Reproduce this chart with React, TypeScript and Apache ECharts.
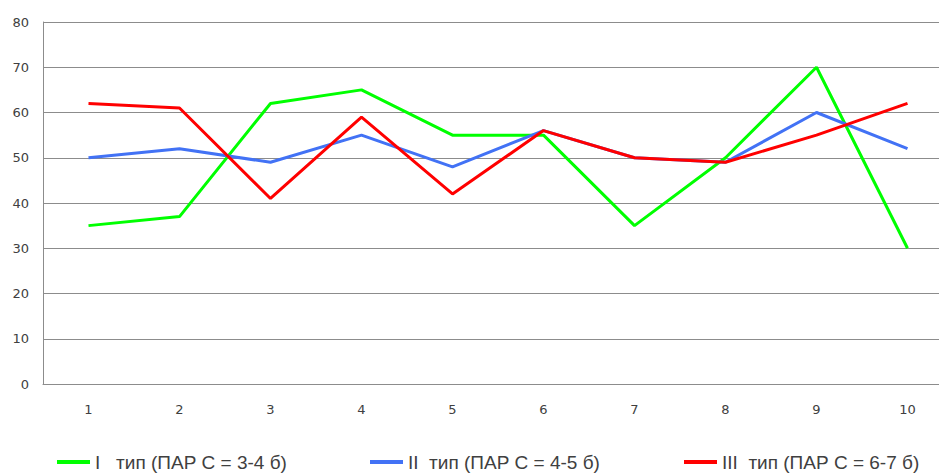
import React, { useEffect, useRef } from "react";
import * as echarts from "echarts";

const categories = ["1", "2", "3", "4", "5", "6", "7", "8", "9", "10"];
const seriesNames = [
  "I   тип (ПАР С = 3-4 б)",
  "II  тип (ПАР С = 4-5 б)",
  "III  тип (ПАР С = 6-7 б)",
];
const type1 = [35, 37, 62, 65, 55, 55, 35, 50, 70, 30];
const type2 = [50, 52, 49, 55, 48, 56, 50, 49, 60, 52];
const type3 = [62, 61, 41, 59, 42, 56, 50, 49, 55, 62];
const colors = ["#00ff00", "#4272f5", "#ff0000"];
const legendLeft = [57, 370, 684];

export default function App() {
  const ref = useRef<HTMLDivElement>(null);
  useEffect(() => {
    document.body.style.margin = "0";
    const chart = echarts.init(ref.current!, null, { renderer: "svg" });
    const data = [type1, type2, type3];
    chart.setOption({
      animation: false,
      backgroundColor: "#ffffff",
      grid: { left: 43, top: 22, right: -14, bottom: 89, outerBoundsMode: "none", containLabel: false },
      legend: seriesNames.map((n, i) => ({
        data: [n],
        left: legendLeft[i],
        top: 452,
        padding: 0,
        icon: "rect",
        itemWidth: 33,
        itemHeight: 4,
        textStyle: {
          fontFamily: "Liberation Sans, Arial, sans-serif",
          fontSize: 19,
          lineHeight: 20,
          color: "#404040",
        },
      })),
      xAxis: {
        type: "category",
        data: categories,
        boundaryGap: true,
        axisLine: { lineStyle: { color: "#8c8c8c", width: 1 } },
        axisTick: { show: false },
        axisLabel: {
          margin: 19,
          fontFamily: "DejaVu Sans, Verdana, sans-serif",
          fontSize: 13,
          color: "#404040",
        },
      },
      yAxis: {
        type: "value",
        min: 0,
        max: 80,
        interval: 10,
        axisLine: { show: true, lineStyle: { color: "#8c8c8c", width: 1 } },
        axisTick: { show: false },
        splitLine: { lineStyle: { color: "#8c8c8c", width: 1 } },
        axisLabel: {
          margin: 14,
          fontFamily: "DejaVu Sans, Verdana, sans-serif",
          fontSize: 13,
          color: "#404040",
        },
      },
      series: seriesNames.map((n, i) => ({
        name: n,
        type: "line",
        data: data[i],
        symbol: "none",
        color: colors[i],
        lineStyle: { width: 3, color: colors[i] },
      })),
    });
    return () => chart.dispose();
  }, []);
  return <div ref={ref} style={{ width: 939, height: 473 }} />;
}
